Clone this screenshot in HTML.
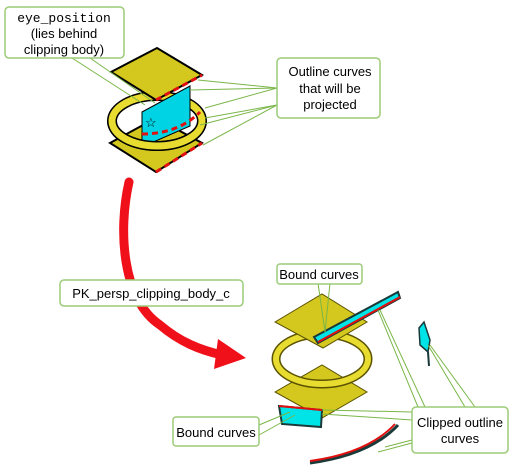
<!DOCTYPE html>
<html><head><style>
body{margin:0;background:#fff;}
svg text{font-family:"Liberation Sans",sans-serif;font-size:13px;fill:#000;}
</style></head><body>
<svg width="513" height="469" viewBox="0 0 513 469" xmlns="http://www.w3.org/2000/svg">
<!-- top figure -->
<polygon points="110,143 156,118 202,143 156,172" fill="#d4c81e" stroke="#000" stroke-width="2"/>
<polyline points="156,172 202,143" fill="none" stroke="#e01010" stroke-width="3" stroke-dasharray="6,4"/>
<ellipse cx="157" cy="121" rx="45" ry="25" fill="none" stroke="#000" stroke-width="10"/>
<ellipse cx="157" cy="121" rx="45" ry="25" fill="none" stroke="#e8dc30" stroke-width="7"/>
<polygon points="142,112 190,86 190,126 142,147" fill="#00d4e4" stroke="#000" stroke-width="1"/>
<path d="M112,121 A45,25 0 0 0 202,121" fill="none" stroke="#000" stroke-width="10"/>
<path d="M112,121 A45,25 0 0 0 202,121" fill="none" stroke="#e8dc30" stroke-width="7"/>
<path d="M142,134 Q178,134 200,112" fill="none" stroke="#e01010" stroke-width="3" stroke-dasharray="6,4"/>
<polygon points="111,72 157,48 202,75 156,100" fill="#d4c81e" stroke="#000" stroke-width="2"/>
<polyline points="156,100 202,75" fill="none" stroke="#e01010" stroke-width="3" stroke-dasharray="6,4"/>
<text x="145" y="127" font-size="10">☆</text>
<!-- leaders top -->
<g stroke="#7ab648" stroke-width="1" fill="none">
<line x1="72" y1="58" x2="145" y2="105"/><line x1="90" y1="58" x2="155" y2="103"/>
<line x1="277" y1="88" x2="198" y2="80"/><line x1="277" y1="88" x2="190" y2="90"/>
<line x1="277" y1="88" x2="205" y2="108"/><line x1="277" y1="105" x2="205" y2="118"/>
<line x1="277" y1="105" x2="203" y2="145"/><line x1="277" y1="105" x2="200" y2="125"/>
</g>
<rect x="5" y="7" width="119" height="51" rx="4" fill="#fff" stroke="#9ccc78" stroke-width="1.5"/>
<text x="64" y="22" text-anchor="middle" style="font-family:'Liberation Mono',monospace">eye_position</text>
<text x="64" y="38" text-anchor="middle">(lies behind</text>
<text x="64" y="54" text-anchor="middle">clipping body)</text>
<rect x="277" y="58" width="103" height="60" rx="4" fill="#fff" stroke="#9ccc78" stroke-width="1.5"/>
<text x="330" y="76" text-anchor="middle">Outline curves</text>
<text x="330" y="93" text-anchor="middle">that will be</text>
<text x="330" y="109" text-anchor="middle">projected</text>
<!-- arrow -->
<path d="M129,182 C118,230 122,300 160,325 C180,342 200,350 222,355" fill="none" stroke="#f0101a" stroke-width="9" stroke-linecap="round"/>
<polygon points="246,358 218,339 214,369" fill="#f0101a"/>
<rect x="60" y="280" width="183" height="26" rx="4" fill="#fff" stroke="#9ccc78" stroke-width="1.5"/>
<text x="151" y="298" text-anchor="middle">PK_persp_clipping_body_c</text>
<!-- bottom figure -->
<polygon points="275,392 322,365 367,392 322,418" fill="#d4c81e" stroke="#5a5200" stroke-width="1"/>
<ellipse cx="322" cy="359" rx="46" ry="25" fill="none" stroke="#5a5200" stroke-width="9"/>
<ellipse cx="322" cy="359" rx="46" ry="25" fill="none" stroke="#e8dc30" stroke-width="6"/>
<polygon points="275,322 322,294 367,322 323,348" fill="#d4c81e" stroke="#5a5200" stroke-width="1"/>
<path d="M314,337 L398,292 L400,298 L318,343 Z" fill="#00e4e8" stroke="#1a3a3a" stroke-width="2"/>
<line x1="318" y1="342" x2="400" y2="297" stroke="#e01010" stroke-width="2"/>
<path d="M419,328 L424,322 L430,340 L428,352 L420,345 Z" fill="#00e4e8" stroke="#1a3a3a" stroke-width="1.5"/>
<line x1="428" y1="352" x2="429" y2="366" stroke="#1a3a3a" stroke-width="2"/>
<path d="M279,406 L322,410 L321,427 L282,424 Z" fill="#00e4e8" stroke="#1a3a3a" stroke-width="2"/>
<line x1="279" y1="406" x2="322" y2="410" stroke="#e01010" stroke-width="2"/>
<path d="M310,463 Q370,455 398,425" fill="none" stroke="#1a3a3a" stroke-width="3"/>
<path d="M310,461 Q368,453 395,424" fill="none" stroke="#e01010" stroke-width="2"/>
<g stroke="#7ab648" stroke-width="1" fill="none">
<line x1="318" y1="283" x2="325" y2="332"/><line x1="330" y1="283" x2="325" y2="332"/>
<line x1="259" y1="425" x2="290" y2="412"/><line x1="259" y1="435" x2="295" y2="415"/>
<line x1="412" y1="412" x2="322" y2="410"/><line x1="412" y1="420" x2="322" y2="414"/>
<line x1="418" y1="407" x2="378" y2="310"/><line x1="425" y1="407" x2="380" y2="310"/>
<line x1="465" y1="407" x2="428" y2="345"/><line x1="475" y1="407" x2="430" y2="345"/>
<line x1="412" y1="440" x2="385" y2="447"/><line x1="412" y1="443" x2="378" y2="452"/>
</g>
<rect x="277" y="264" width="85" height="20" rx="3" fill="#fff" stroke="#9ccc78" stroke-width="1.5"/>
<text x="319" y="279" text-anchor="middle">Bound curves</text>
<rect x="173" y="417" width="86" height="29" rx="3" fill="#fff" stroke="#9ccc78" stroke-width="1.5"/>
<text x="216" y="437" text-anchor="middle">Bound curves</text>
<rect x="412" y="407" width="96" height="46" rx="4" fill="#fff" stroke="#9ccc78" stroke-width="1.5"/>
<text x="460" y="427" text-anchor="middle">Clipped outline</text>
<text x="460" y="443" text-anchor="middle">curves</text>
</svg>
</body></html>
